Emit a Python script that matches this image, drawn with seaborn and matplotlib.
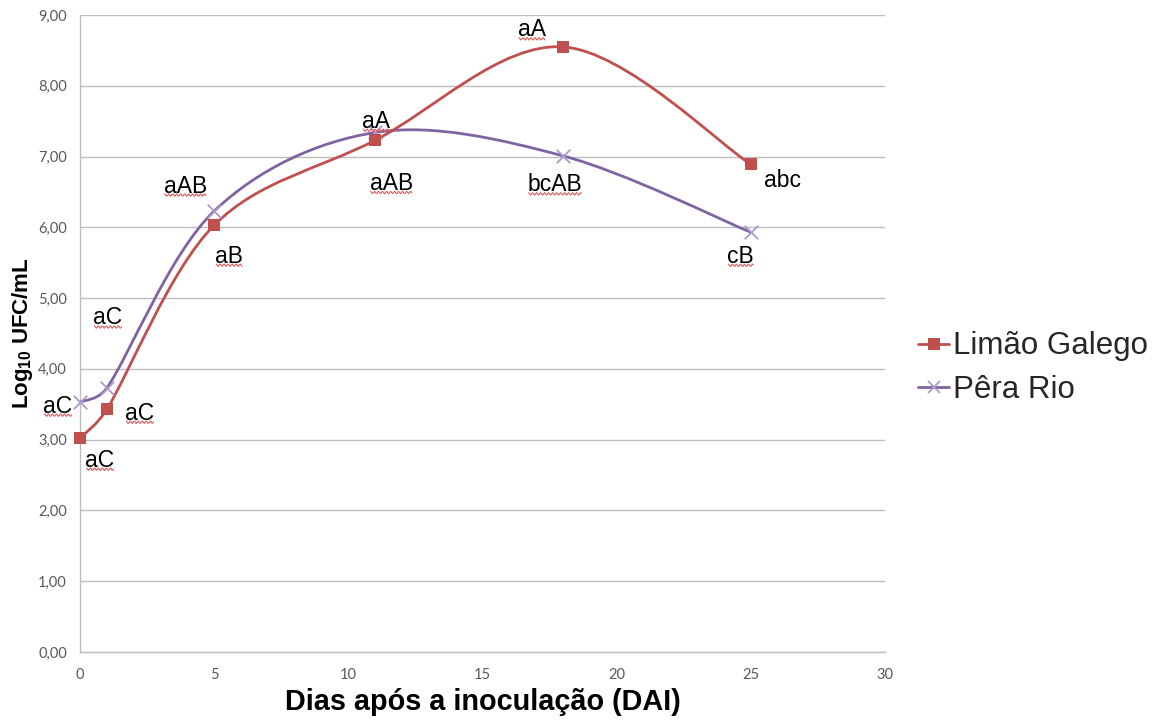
import numpy as np
import matplotlib
matplotlib.use("Agg")
import matplotlib.pyplot as plt
from matplotlib.path import Path
from matplotlib.patches import PathPatch
from matplotlib.lines import Line2D
from matplotlib.transforms import IdentityTransform
import seaborn as sns

# Days after inoculation and log10 CFU/mL counts
dias = [0, 1, 5, 11, 18, 25]
limao_galego = [3.02, 3.43, 6.03, 7.23, 8.55, 6.89]
pera_rio = [3.53, 3.73, 6.23, 7.34, 7.01, 5.93]

# Statistical letters for each point
letras_limao = ["aC", "aC", "aB", "aA", "aA", "abc"]
letras_pera = ["aC", "aC", "aAB", "aAB", "bcAB", "cB"]
sublinhado_limao = [True, True, True, True, True, False]
sublinhado_pera = [True, True, True, True, True, True]

# Label offsets from each point (pixels, y up)
desloc_limao = [(20, -22), (33, -4), (15, -31), (1, 19), (-31, 17), (32, -16)]
desloc_pera = [(-22, -4), (1, 70), (-29, 25), (16, -51), (-8, -29), (-10, -24)]

x_ticks = [0, 5, 10, 15, 20, 25, 30]
y_ticks = list(range(0, 10))

COR_LIMAO = "#C0504D"
COR_PERA = "#8064A2"
COR_X = "#A99BCB"
GRID = "#BDBDBD"

sns.set_theme(style="white")
plt.rcParams["font.family"] = ["Liberation Sans", "DejaVu Sans"]
plt.rcParams["mathtext.fontset"] = "custom"
plt.rcParams["mathtext.rm"] = "Liberation Sans"
plt.rcParams["mathtext.bf"] = "Liberation Sans:bold"

DPI = 100
fig = plt.figure(figsize=(11.62, 7.2), dpi=DPI)
L, R, T, B = 80, 885, 15, 652
W, H = 1162, 720
ax = fig.add_axes([L / W, 1 - B / H, (R - L) / W, (B - T) / H])
ax.set_xlim(0, 30)
ax.set_ylim(0, 9)

# Horizontal gridlines
ax.set_yticks(y_ticks)
ax.set_xticks(x_ticks)
ax.yaxis.grid(True, color=GRID, linewidth=1.0)
ax.xaxis.grid(False)
ax.set_axisbelow(True)
for s in ["top", "right"]:
    ax.spines[s].set_visible(False)
for s in ["left", "bottom"]:
    ax.spines[s].set_color(GRID)
    ax.spines[s].set_linewidth(1.0)

ax.set_yticklabels([f"{v:.2f}".replace(".", ",") for v in y_ticks])
ax.set_xticklabels([str(v) for v in x_ticks])
ax.tick_params(axis="both", length=0, labelsize=10.5, labelcolor="#595959")
ax.tick_params(axis="y", pad=9.5)
ax.tick_params(axis="x", pad=11.5)
for lab in ax.get_xticklabels() + ax.get_yticklabels():
    lab.set_fontfamily(["Lato", "DejaVu Sans"])

ax.set_xlabel("Dias após a inoculação (DAI)", fontsize=20.8, fontweight="bold",
              labelpad=4, color="black")
ax.set_ylabel(r"Log$_{\mathbf{10}}$ UFC/mL", fontsize=16, fontweight="bold",
              labelpad=2, color="black")

# Smoothed curve through the points (cubic Bezier segments)
sx = (R - L) / 30.0
sy = (B - T) / 9.0


def curva_suave(xs, ys):
    P = np.column_stack([np.asarray(xs, float) * sx, np.asarray(ys, float) * sy])
    n = len(P)
    verts = [P[0]]
    codes = [Path.MOVETO]
    for i in range(n - 1):
        p0 = P[i - 1] if i > 0 else P[i]
        p1 = P[i]
        p2 = P[i + 1]
        p3 = P[i + 2] if i + 2 < n else P[i + 1]
        d12 = np.linalg.norm(p2 - p1)
        d02 = np.linalg.norm(p2 - p0)
        d13 = np.linalg.norm(p3 - p1)
        f1 = min(1 / 6, d12 / (2 * d02)) if d02 > 0 else 0
        f2 = min(1 / 6, d12 / (2 * d13)) if d13 > 0 else 0
        c1 = p1 + (p2 - p0) * f1
        c2 = p2 - (p3 - p1) * f2
        verts += [c1, c2, p2]
        codes += [Path.CURVE4] * 3
    V = np.array(verts)
    V[:, 0] /= sx
    V[:, 1] /= sy
    return Path(V, codes)


ax.add_patch(PathPatch(curva_suave(dias, pera_rio), facecolor="none",
                       edgecolor=COR_PERA, linewidth=2.0, zorder=3))
ax.add_patch(PathPatch(curva_suave(dias, limao_galego), facecolor="none",
                       edgecolor=COR_LIMAO, linewidth=2.0, zorder=3))

sns.scatterplot(x=dias, y=pera_rio, marker="x", s=95, color=COR_X,
                linewidth=1.3, ax=ax, zorder=4, clip_on=False)
sns.scatterplot(x=dias, y=limao_galego, marker="s", s=78, color=COR_LIMAO,
                linewidth=0, ax=ax, zorder=5, clip_on=False)

px2pt = 72.0 / DPI
textos = []
for xs, ys, letras, desloc, sub in [
    (dias, limao_galego, letras_limao, desloc_limao, sublinhado_limao),
    (dias, pera_rio, letras_pera, desloc_pera, sublinhado_pera),
]:
    for xv, yv, t, (dx, dy), u in zip(xs, ys, letras, desloc, sub):
        a = ax.annotate(t, (xv, yv), xytext=(dx * px2pt, dy * px2pt),
                        textcoords="offset points", ha="center", va="center",
                        fontsize=16.5, color="black", zorder=6,
                        annotation_clip=False)
        textos.append((a, u))

# Legend on the right
handles = [
    Line2D([], [], color=COR_LIMAO, linewidth=2.0, marker="s", markersize=8,
           markeredgewidth=0),
    Line2D([], [], color=COR_PERA, linewidth=2.0, marker="x", markersize=9,
           markeredgecolor=COR_X, markeredgewidth=1.3),
]
fig.legend(handles, ["Limão Galego", "Pêra Rio"], loc="center left",
           bbox_to_anchor=(918 / W, 1 - 368 / H), frameon=False, fontsize=22.5,
           handlelength=1.0, handletextpad=0.12, labelspacing=0.42,
           borderpad=0, borderaxespad=0)

# Wavy spell-check style underline below the letters
fig.canvas.draw()
renderer = fig.canvas.get_renderer()
for a, u in textos:
    if not u:
        continue
    bb = a.get_window_extent(renderer)
    xw = np.linspace(bb.x0 + 1, bb.x1 - 1, 200)
    yw = bb.y0 + 2.5 + 1.1 * np.sin((xw - bb.x0) * 2 * np.pi / 4.0)
    fig.add_artist(Line2D(xw, yw, transform=IdentityTransform(),
                          color="#E05A5A", linewidth=0.8))

fig.savefig("out.png", dpi=DPI)
